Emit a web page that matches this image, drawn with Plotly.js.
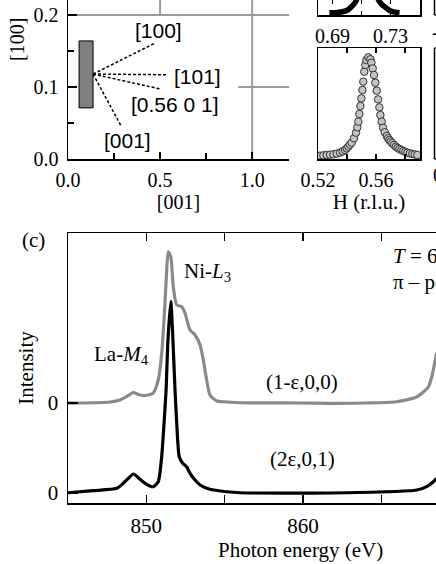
<!DOCTYPE html>
<html>
<head>
<meta charset="utf-8">
<script src="https://cdn.plot.ly/plotly-3.0.1.min.js"></script>
<style>html,body{margin:0;padding:0;background:#fff;}#chart{width:436px;height:564px;}</style>
</head>
<body>
<div id="chart"></div>
<script>
// ---------- Panel (a): reciprocal-space sketch ----------
const rectX = [0.06, 0.136];
const rectY = [0.071, 0.164];
const arrowOrigin = [0.136, 0.118];
const arrowLabels = ["[100]", "[101]", "[0.56 0 1]", "[001]"];
const arrowTipX = [0.473, 0.538, 0.505, 0.288];
const arrowTipY = [0.161, 0.117, 0.097, 0.046];
const labelX = [0.489, 0.701, 0.582, 0.321];
const labelY = [0.178, 0.115, 0.076, 0.026];
// zone-boundary segments
const zoneSegX = [[0, 1.2], [0.5, 0.5], [1.0, 1.0], [0.924, 1.2]];
const zoneSegY = [[0.2, 0.2], [0.2, 0.25], [0, 0.25], [0.1, 0.1]];

// ---------- Panel (b): H scans ----------
const scanTopH = [0.6879, 0.6935, 0.6969, 0.7005, 0.7031, 0.7066, 0.7100, 0.7140, 0.7180, 0.7217, 0.7240, 0.7259, 0.7290, 0.7314, 0.7362];
const scanTopI = [0.023, 0.026, 0.033, 0.050, 0.083, 0.150, 0.600, 1.000, 0.600, 0.150, 0.105, 0.083, 0.048, 0.033, 0.023];

const scanH = [0.5214, 0.5237, 0.5260, 0.5283, 0.5306, 0.5329, 0.5352, 0.5370, 0.5386, 0.5398, 0.5409, 0.5420,
  0.5432, 0.5448, 0.5462, 0.5471, 0.5478, 0.5485, 0.5492, 0.5499, 0.5506, 0.5512, 0.5519, 0.5526, 0.5533, 0.5547,
  0.5561, 0.5568, 0.5577, 0.5586, 0.5595, 0.5605, 0.5614, 0.5623, 0.5630, 0.5639, 0.5648, 0.5660, 0.5674, 0.5683,
  0.5692, 0.5701, 0.5712, 0.5724, 0.5736, 0.5748, 0.5761, 0.5775, 0.5788, 0.5802, 0.5816, 0.5833, 0.5850, 0.5867, 0.5885];
const scanI = [0.033, 0.036, 0.040, 0.043, 0.046, 0.053, 0.063, 0.076, 0.089, 0.105, 0.122, 0.142,
  0.162, 0.205, 0.261, 0.314, 0.370, 0.446, 0.525, 0.601, 0.684, 0.766, 0.865, 0.932, 0.981, 1.008,
  0.988, 0.954, 0.898, 0.832, 0.756, 0.677, 0.591, 0.512, 0.436, 0.370, 0.310, 0.265, 0.228, 0.206,
  0.188, 0.172, 0.156, 0.139, 0.122, 0.110, 0.099, 0.089, 0.079, 0.071, 0.063, 0.056, 0.050, 0.045, 0.040];

// ---------- Panel (c): energy scans ----------
const energyGray = [845.00, 845.64, 847.68, 848.32, 848.75, 849.17, 849.49, 849.81, 850.11, 850.44, 850.76, 850.98,
  851.19, 851.30, 851.40, 851.56, 851.72, 851.94, 852.26, 852.47, 852.79, 853.11, 853.43, 853.64, 853.85, 854.06,
  854.49, 854.91, 855.98, 859.81, 861.72, 864.07, 865.98, 867.26, 867.68, 868.00, 868.23, 868.53];
const intensityGray = [0, 0, 0.011, 0.033, 0.072, 0.117, 0.094, 0.083, 0.089, 0.111, 0.256, 0.552,
  1.108, 1.478, 1.681, 1.626, 1.292, 1.089, 1.070, 0.997, 0.811, 0.756, 0.644, 0.478, 0.256, 0.089,
  0.022, 0.014, 0.003, 0, -0.003, 0, 0.014, 0.067, 0.122, 0.178, 0.300, 0.556];
const grayOffset = 1.0;

const energyBlack = [845.00, 846.61, 848.11, 848.53, 848.85, 849.17, 849.60, 850.02, 850.44, 850.76, 850.98, 851.13,
  851.26, 851.38, 851.56, 851.67, 851.83, 851.94, 852.10, 852.32, 852.57, 852.79, 853.11, 853.43, 854.06, 855.13,
  855.98, 861.72, 867.26, 867.89, 868.32, 868.53];
const intensityBlack = [0.003, 0.026, 0.052, 0.108, 0.163, 0.211, 0.152, 0.097, 0.070, 0.126, 0.403, 0.774,
  1.144, 1.700, 2.126, 1.811, 1.144, 0.774, 0.403, 0.330, 0.292, 0.219, 0.144, 0.089, 0.041, 0.014,
  0.003, 0, 0.033, 0.070, 0.126, 0.163];

// ---------- helpers ----------
const W = 436, H = 564;
const fx = p => p / W;
const fy = p => 1 - p / H;
const serif = "Liberation Serif, Times New Roman, serif";
const sans = "Liberation Sans, Arial, sans-serif";

const traces = [];
zoneSegX.forEach((sx, i) => traces.push({
  x: sx, y: zoneSegY[i], xaxis: 'x', yaxis: 'y', mode: 'lines',
  line: {color: '#9a9a9a', width: 2}, hoverinfo: 'skip', showlegend: false
}));
traces.push({
  x: [rectX[0], rectX[1], rectX[1], rectX[0], rectX[0]],
  y: [rectY[0], rectY[0], rectY[1], rectY[1], rectY[0]],
  xaxis: 'x', yaxis: 'y', mode: 'lines', fill: 'toself', fillcolor: '#7f7f7f',
  line: {color: '#000', width: 1}, showlegend: false, hoverinfo: 'skip'
});
arrowTipX.forEach((tx, i) => traces.push({
  x: [arrowOrigin[0], tx], y: [arrowOrigin[1], arrowTipY[i]], xaxis: 'x', yaxis: 'y',
  mode: 'lines', line: {color: '#000', width: 1.5, dash: '3px,2px'}, showlegend: false, hoverinfo: 'skip'
}));
traces.push({x: scanTopH, y: scanTopI, xaxis: 'x2', yaxis: 'y2', mode: 'lines',
  line: {color: '#000', width: 5.5, shape: 'spline', smoothing: 0.8}, showlegend: false});
traces.push({x: scanH, y: scanI, xaxis: 'x3', yaxis: 'y3', mode: 'markers',
  marker: {symbol: 'circle', size: 7.5, color: '#c4c4c4', line: {color: '#333', width: 1}}, showlegend: false});
traces.push({x: energyGray, y: intensityGray.map(v => v + grayOffset), xaxis: 'x4', yaxis: 'y4', mode: 'lines',
  line: {color: '#8a8a8a', width: 3.2, shape: 'spline', smoothing: 0.6}, name: '(1-ε,0,0)', showlegend: false});
traces.push({x: energyBlack, y: intensityBlack, xaxis: 'x4', yaxis: 'y4', mode: 'lines',
  line: {color: '#000', width: 3.2, shape: 'spline', smoothing: 0.6}, name: '(2ε,0,1)', showlegend: false});

const axBase = {
  showline: true, linecolor: '#000', linewidth: 1.5, ticks: 'inside', tickcolor: '#000', tickwidth: 1.5,
  showgrid: false, zeroline: false, tickfont: {family: serif, size: 20, color: '#000'}
};

const layout = {
  width: W, height: H, margin: {l: 0, r: 0, t: 0, b: 0}, autosize: false,
  paper_bgcolor: '#fff', plot_bgcolor: 'rgba(0,0,0,0)', showlegend: false,
  font: {family: serif, color: '#000'},
  xaxis: Object.assign({}, axBase, {
    domain: [fx(68), fx(289)], range: [0, 1.2], dtick: 0.5, tick0: 0, tickformat: '.1f', ticklen: 7,
    minor: {dtick: 0.25, tick0: 0, ticks: 'inside', ticklen: 6, tickcolor: '#000', tickwidth: 1.5},
    ticklabelstandoff: 2,
    title: {text: '[001]', font: {family: serif, size: 20}, standoff: 4}, anchor: 'y'
  }),
  yaxis: Object.assign({}, axBase, {
    domain: [fy(159), 1], range: [0, 159 / 720], dtick: 0.1, tick0: 0, tickformat: '.1f', ticklen: 9,
    minor: {dtick: 0.05, tick0: 0, ticks: 'inside', ticklen: 6, tickcolor: '#000', tickwidth: 1.5},
    ticklabelstandoff: 4, anchor: 'x'
  }),
  xaxis2: Object.assign({}, axBase, {
    domain: [fx(318), fx(420)], range: [0.68, 0.7503], tick0: 0.69, dtick: 0.04, tickformat: '.2f',
    minor: {tick0: 0.69, dtick: 0.02, ticks: 'inside', ticklen: 4, tickcolor: '#000', tickwidth: 1.5},
    ticklen: 4, mirror: 'ticks', anchor: 'y2', ticklabelstandoff: 2
  }),
  yaxis2: Object.assign({}, axBase, {
    domain: [fy(15), 1], range: [0, 0.15], ticks: '', showticklabels: false, mirror: true, anchor: 'x2'
  }),
  xaxis3: Object.assign({}, axBase, {
    domain: [fx(318), fx(420)], range: [0.52, 0.5903], tick0: 0.52, dtick: 0.04, tickformat: '.2f',
    minor: {tick0: 0.52, dtick: 0.02, ticks: 'inside', ticklen: 5, tickcolor: '#000', tickwidth: 1.5},
    ticklen: 5, mirror: 'ticks', anchor: 'y3', ticklabelstandoff: 2,
    title: {text: 'H (r.l.u.)', font: {family: serif, size: 21}, standoff: 2}
  }),
  yaxis3: Object.assign({}, axBase, {
    domain: [fy(159), fy(48)], range: [0, 1.1], ticks: '', showticklabels: false, mirror: true, anchor: 'x3'
  }),
  xaxis4: Object.assign({}, axBase, {
    domain: [fx(68), 1], range: [845, 845 + (436 - 68) / 15.667], tick0: 850, dtick: 10,
    minor: {tick0: 850, dtick: 5, ticks: 'inside', ticklen: 8, tickcolor: '#000', tickwidth: 1.5},
    ticklen: 8, mirror: 'ticks', anchor: 'y4', ticklabelstandoff: 3,
    tickfont: {family: serif, size: 21, color: '#000'}
  }),
  yaxis4: Object.assign({}, axBase, {
    domain: [fy(503), fy(233)], range: [-0.111, 2.889], tickvals: [0, grayOffset], ticktext: ['0', '0'],
    ticklen: 10, anchor: 'x4', ticklabelstandoff: 4, tickfont: {family: serif, size: 21, color: '#000'},
    title: {text: 'Intensity', font: {family: serif, size: 21}, standoff: 8}
  }),
  shapes: [
    {type: 'line', xref: 'paper', yref: 'paper', x0: fx(434.5), x1: fx(434.5), y0: fy(15), y1: 1, line: {color: '#000', width: 1.5}},
    {type: 'line', xref: 'paper', yref: 'paper', x0: fx(434.5), x1: 1, y0: fy(15), y1: fy(15), line: {color: '#000', width: 1.5}},
    {type: 'line', xref: 'paper', yref: 'paper', x0: fx(434.5), x1: fx(434.5), y0: fy(159), y1: fy(48), line: {color: '#000', width: 1.5}},
    {type: 'line', xref: 'paper', yref: 'paper', x0: fx(434.5), x1: 1, y0: fy(48), y1: fy(48), line: {color: '#000', width: 1.5}},
    {type: 'line', xref: 'paper', yref: 'paper', x0: fx(434.5), x1: 1, y0: fy(159), y1: fy(159), line: {color: '#000', width: 1.5}}
  ],
  annotations: []
};

arrowLabels.forEach((t, i) => layout.annotations.push({
  text: t, x: labelX[i], y: labelY[i], xref: 'x', yref: 'y', showarrow: false,
  font: {family: sans, size: 21, color: '#000'}, xanchor: 'center', yanchor: 'middle'
}));

const paperText = (text, x, y, opts) => Object.assign({
  text: text, x: fx(x), y: fy(y), xref: 'paper', yref: 'paper', showarrow: false,
  font: {family: serif, size: 21, color: '#000'}, xanchor: 'center', yanchor: 'middle'
}, opts || {});

layout.annotations.push(
  paperText('[100]', 17, 40, {textangle: -90, font: {family: serif, size: 20, color: '#000'}}),
  paperText('-0.02', 430, 32, {xanchor: 'left', font: {family: serif, size: 20, color: '#000'}}),
  paperText('0.62', 431, 175, {xanchor: 'left', font: {family: serif, size: 20, color: '#000'}}),
  paperText('(c)', 33, 240),
  paperText('Ni-<i>L</i><sub>3</sub>', 207, 272),
  paperText('La-<i>M</i><sub>4</sub>', 121, 355),
  paperText('(1-ε,0,0)', 302, 382),
  paperText('(2ε,0,1)', 302, 459),
  paperText('<i>T</i> = 60 K', 391, 256, {xanchor: 'left'}),
  paperText('π – pol.', 391, 282, {xanchor: 'left'}),
  paperText('Photon energy (eV)', 300, 550)
);

Plotly.newPlot('chart', traces, layout, {staticPlot: true, displayModeBar: false});
</script>
</body>
</html>
